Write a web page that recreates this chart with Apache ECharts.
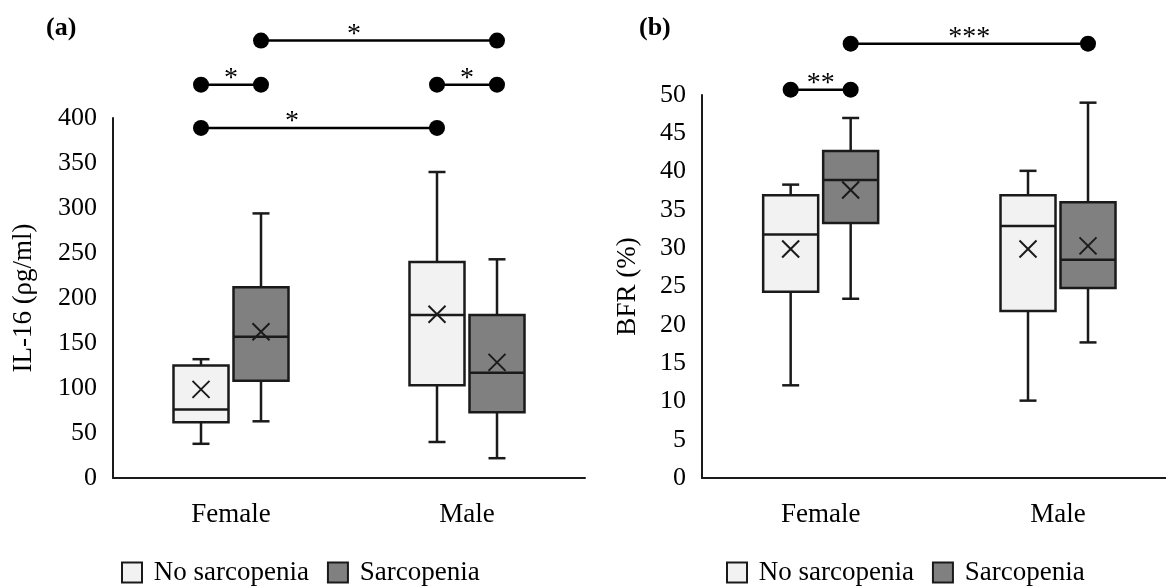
<!DOCTYPE html>
<html>
<head>
<meta charset="utf-8">
<script src="https://cdn.jsdelivr.net/npm/echarts@6/dist/echarts.min.js"></script>
<style>html,body{margin:0;padding:0;background:#fff;}#c{width:1166px;height:587px;}</style>
</head>
<body>
<div id="c"></div>
<script>
// ---------- DATA ----------
const categories = ['Female', 'Male'];
const groupNames = ['No sarcopenia', 'Sarcopenia'];

// [min, q1, median, q3, max] per category
const il16NoSarc = [[38, 62, 76, 125, 132], [40, 103, 181, 240, 340]];
const il16Sarc   = [[63, 108, 157, 212, 294], [22, 73, 117, 181, 243]];
const il16NoSarcMean = [98.5, 182];
const il16SarcMean   = [162.5, 128.5];

const bfrNoSarc = [[12.1, 24.3, 31.8, 36.9, 38.3], [10.1, 21.8, 32.9, 36.9, 40.1]];
const bfrSarc   = [[23.4, 33.3, 38.9, 42.7, 47.0], [17.7, 24.8, 28.5, 36.0, 49.0]];
const bfrNoSarcMean = [29.9, 29.9];
const bfrSarcMean   = [37.6, 30.3];

// axis ticks
const il16Axis = { min: 0, max: 400, interval: 50, name: 'IL-16 (ρg/ml)' };
const bfrAxis  = { min: 0, max: 50, interval: 5, name: 'BFR (%)' };

// significance: [category1, group1, category2, group2, level, label]
const il16Sig = [[0, 0, 1, 0, 389, '*'], [0, 0, 0, 1, 437, '*'], [1, 0, 1, 1, 437, '*'], [0, 1, 1, 1, 486, '*']];
const bfrSig  = [[0, 0, 0, 1, 50.7, '**'], [0, 1, 1, 1, 56.7, '***']];

// ---------- STYLE ----------
const FONT = 'Liberation Serif';
const FILLS = ['#f2f2f2', '#808080'];
const GROUP_OFFSET = [-30, 30];
const BOX_W = 55;
const CAP_W = 17;
const X_HALF = 8.5;
const LW = 2.5;
const il16SigLabelDx = [-27, 0, 0, -25];
const bfrSigLabelDx = [0, 0];

function boxRows(stats, means) {
  return stats.map((s, i) => [i, s[0], s[1], s[2], s[3], s[4], means[i]]);
}

function makeBoxRender(g) {
  return function (params, api) {
    const cat = api.value(0);
    const off = GROUP_OFFSET[g];
    const pMin = api.coord([cat, api.value(1)]);
    const pQ1 = api.coord([cat, api.value(2)]);
    const pMed = api.coord([cat, api.value(3)]);
    const pQ3 = api.coord([cat, api.value(4)]);
    const pMax = api.coord([cat, api.value(5)]);
    const pMean = api.coord([cat, api.value(6)]);
    const x = pMin[0] + off;
    const hw = BOX_W / 2, cw = CAP_W / 2;
    const ls = { stroke: '#1a1a1a', lineWidth: LW };
    const xs = { stroke: '#1a1a1a', lineWidth: 2 };
    return {
      type: 'group',
      children: [
        { type: 'line', shape: { x1: x, y1: pQ3[1], x2: x, y2: pMax[1] }, style: ls },
        { type: 'line', shape: { x1: x - cw, y1: pMax[1], x2: x + cw, y2: pMax[1] }, style: ls },
        { type: 'line', shape: { x1: x, y1: pQ1[1], x2: x, y2: pMin[1] }, style: ls },
        { type: 'line', shape: { x1: x - cw, y1: pMin[1], x2: x + cw, y2: pMin[1] }, style: ls },
        { type: 'rect', shape: { x: x - hw, y: pQ3[1], width: BOX_W, height: pQ1[1] - pQ3[1] },
          style: { fill: FILLS[g], stroke: '#1a1a1a', lineWidth: LW } },
        { type: 'line', shape: { x1: x - hw, y1: pMed[1], x2: x + hw, y2: pMed[1] }, style: ls },
        { type: 'line', shape: { x1: x - X_HALF, y1: pMean[1] - X_HALF, x2: x + X_HALF, y2: pMean[1] + X_HALF }, style: xs },
        { type: 'line', shape: { x1: x - X_HALF, y1: pMean[1] + X_HALF, x2: x + X_HALF, y2: pMean[1] - X_HALF }, style: xs }
      ]
    };
  };
}

function makeSigRender(labelDx) {
  return function (params, api) {
    const p1 = api.coord([api.value(0), api.value(4)]);
    const p2 = api.coord([api.value(2), api.value(4)]);
    const x1 = p1[0] + GROUP_OFFSET[api.value(1)];
    const x2 = p2[0] + GROUP_OFFSET[api.value(3)];
    const y = p1[1];
    return {
      type: 'group',
      children: [
        { type: 'line', shape: { x1: x1, y1: y, x2: x2, y2: y }, style: { stroke: '#000', lineWidth: 2.5 } },
        { type: 'circle', shape: { cx: x1, cy: y, r: 8 }, style: { fill: '#000' } },
        { type: 'circle', shape: { cx: x2, cy: y, r: 8 }, style: { fill: '#000' } },
        { type: 'text', x: (x1 + x2) / 2 + labelDx[params.dataIndex], y: y + 8,
          style: { text: api.value(5), fill: '#000', font: '28px "' + FONT + '"', align: 'center', verticalAlign: 'bottom' } }
      ]
    };
  };
}

function sigRows(sig) { return sig.map(r => r.slice()); }

const grids = [
  { left: 113, width: 472, top: 118, bottom: 109 },
  { left: 702, right: 0, top: 95, bottom: 109 }
];

function yAxisFor(ax, gi, gap) {
  return {
    type: 'value', gridIndex: gi, min: ax.min, max: ax.max, interval: ax.interval,
    name: ax.name, nameLocation: 'middle', nameGap: gap, nameRotate: 90,
    nameTextStyle: { fontFamily: FONT, fontSize: 27, color: '#000' },
    axisLine: { show: true, onZero: false, lineStyle: { color: '#1a1a1a', width: 2 } },
    axisTick: { show: false }, splitLine: { show: false },
    axisLabel: { fontFamily: FONT, fontSize: 26, color: '#000', margin: 16 }
  };
}
const xLabelStyle = { fontFamily: FONT, fontSize: 27, color: '#000', margin: 23 };
const xAxes = [
  {
    type: 'category', gridIndex: 0, data: categories,
    axisLine: { onZero: false, lineStyle: { color: '#1a1a1a', width: 2 } },
    axisTick: { show: false },
    axisLabel: xLabelStyle
  },
  {
    // right panel: the reference's plot area runs past the picture edge
    type: 'value', gridIndex: 1, min: -0.5, max: 1.455, interval: 0.5,
    axisLine: { onZero: false, lineStyle: { color: '#1a1a1a', width: 2 } },
    axisTick: { show: false }, splitLine: { show: false },
    axisLabel: Object.assign({}, xLabelStyle, {
      showMaxLabel: false,
      formatter: function (v) { return Number.isInteger(v) && categories[v] !== undefined ? categories[v] : ''; }
    })
  }
];

const series = [];
[[il16NoSarc, il16NoSarcMean, il16Sarc, il16SarcMean], [bfrNoSarc, bfrNoSarcMean, bfrSarc, bfrSarcMean]].forEach((d, gi) => {
  series.push({ type: 'custom', name: groupNames[0], xAxisIndex: gi, yAxisIndex: gi, renderItem: makeBoxRender(0),
    data: boxRows(d[0], d[1]), encode: { x: 0, y: [1, 2, 3, 4, 5, 6] }, itemStyle: { color: FILLS[0], borderColor: '#000' }, clip: false });
  series.push({ type: 'custom', name: groupNames[1], xAxisIndex: gi, yAxisIndex: gi, renderItem: makeBoxRender(1),
    data: boxRows(d[2], d[3]), encode: { x: 0, y: [1, 2, 3, 4, 5, 6] }, itemStyle: { color: FILLS[1], borderColor: '#000' }, clip: false });
});
series.push({ type: 'custom', xAxisIndex: 0, yAxisIndex: 0, renderItem: makeSigRender(il16SigLabelDx),
  data: sigRows(il16Sig), encode: { x: [0, 2], y: 4 }, clip: false, silent: true });
series.push({ type: 'custom', xAxisIndex: 1, yAxisIndex: 1, renderItem: makeSigRender(bfrSigLabelDx),
  data: sigRows(bfrSig), encode: { x: [0, 2], y: 4 }, clip: false, silent: true });

function legendFor(left) {
  return {
    left: left, top: 559, itemWidth: 20, itemHeight: 20, itemGap: 18, padding: 0,
    formatter: function (n) { return ' ' + n; },
    textStyle: { fontFamily: FONT, fontSize: 27, color: '#000' },
    data: groupNames.map((n, i) => ({ name: n, icon: 'rect', itemStyle: { color: FILLS[i], borderColor: '#1a1a1a', borderWidth: 2 } })),
    selectedMode: false
  };
}

const chart = echarts.init(document.getElementById('c'), null, { renderer: 'canvas' });
chart.setOption({
  backgroundColor: '#fff',
  animation: false,
  title: [
    { text: '(a)', left: 46, top: 15, padding: 0, textStyle: { fontFamily: FONT, fontSize: 26, fontWeight: 'bold', color: '#000' } },
    { text: '(b)', left: 639, top: 15, padding: 0, textStyle: { fontFamily: FONT, fontSize: 26, fontWeight: 'bold', color: '#000' } }
  ],
  grid: grids,
  xAxis: xAxes,
  yAxis: [yAxisFor(il16Axis, 0, 76), yAxisFor(bfrAxis, 1, 61)],
  legend: [legendFor(121), legendFor(726)],
  series: series
});
</script>
</body>
</html>
